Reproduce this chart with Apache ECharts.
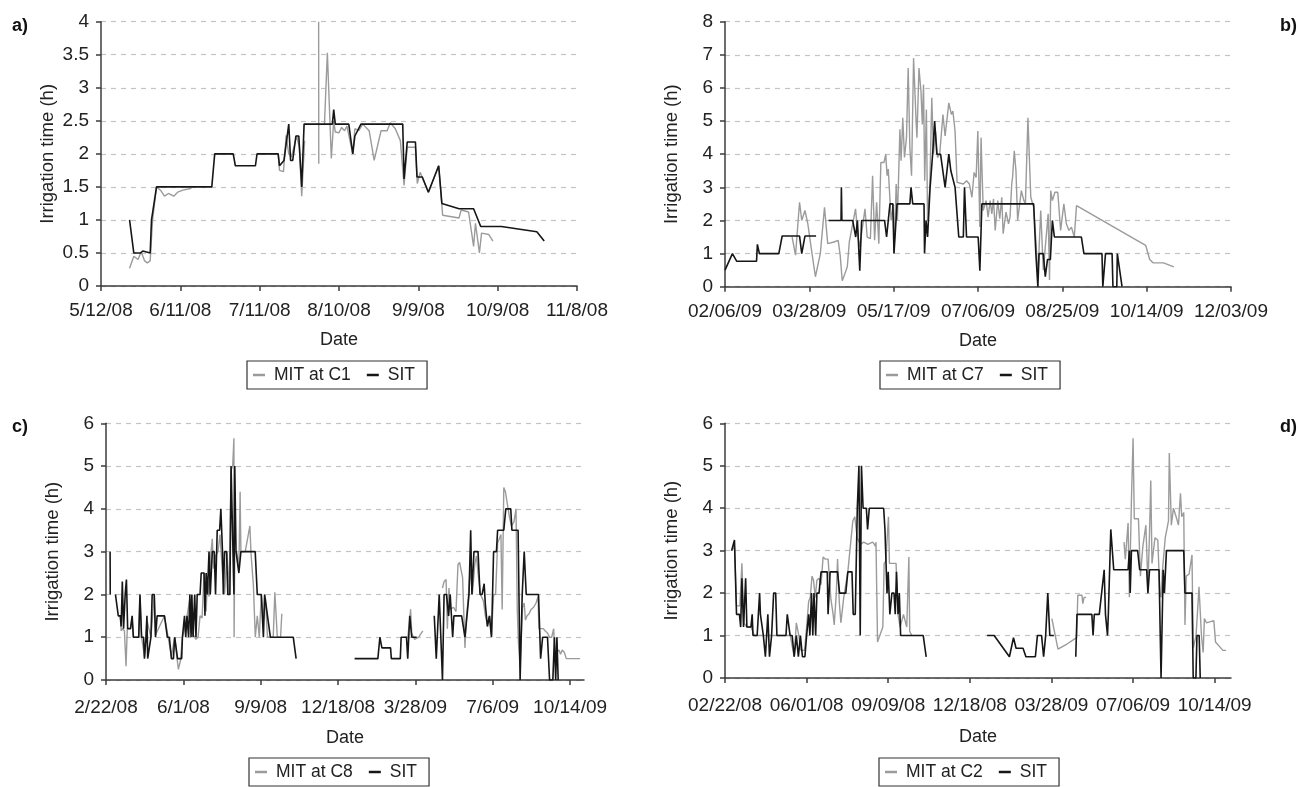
<!DOCTYPE html>
<html><head><meta charset="utf-8">
<script src="https://cdn.jsdelivr.net/npm/echarts@6/dist/echarts.min.js"></script>
<style>html,body{margin:0;padding:0;background:#fff}#c{width:1299px;height:787px}</style>
</head><body><div id="c"></div>
<script>
// x values are days after each panel's first axis date; null = gap in line
const aTicks = ['5/12/08','6/11/08','7/11/08','8/10/08','9/9/08','10/9/08','11/8/08'];
const bTicks = ['02/06/09','03/28/09','05/17/09','07/06/09','08/25/09','10/14/09','12/03/09'];
const cTicks = ['2/22/08','6/1/08','9/9/08','12/18/08','3/28/09','7/6/09','10/14/09'];
const dTicks = ['02/22/08','06/01/08','09/09/08','12/18/08','03/28/09','07/06/09','10/14/09'];

const aSIT = [[10.8,1.0],[12.4,0.5],[15,0.5],[15.8,0.53],[16.5,0.5],[18.6,0.5],[19.1,1.0],[21,1.5],[41.9,1.5],[43,2.0],[50,2.0],[50.8,1.82],[58.4,1.82],[59,2.0],[67,2.0],[67.5,1.82],[69.2,1.9],[71,2.45],[71.7,1.9],[72.5,1.9],[73.7,2.27],[74.8,2.27],[75.9,1.5],[76.8,2.45],[87.5,2.45],[88,2.67],[88.6,2.45],[93.7,2.45],[95.2,2.0],[96,2.27],[98.3,2.45],[114.1,2.45],[114.6,1.62],[115.8,2.18],[118.9,2.18],[119.5,1.65],[121.5,1.65],[123.8,1.42],[127.7,1.82],[128.9,1.25],[135.4,1.17],[140.9,1.17],[143.6,0.9],[151.4,0.9],[164.8,0.82],[167.6,0.68]];
const aMIT = [[10.8,0.27],[12.4,0.45],[14,0.4],[15.2,0.52],[16.5,0.38],[17.5,0.35],[18.6,0.38],[19.5,1.0],[21,1.5],[22.5,1.45],[24,1.36],[25.5,1.4],[27.5,1.36],[29,1.42],[31,1.45],[34.2,1.48],null,[43,2.0],[50,2.0],null,[59,2.0],[67,2.0],[67.5,1.75],[69,1.73],[70,2.28],[71,2.0],[72,1.95],[74,2.27],[75,2.1],[75.9,1.36],[77,2.2],null,[82.3,4.0],[82.35,1.85],null,[84.5,2.45],[85.6,3.53],[87.1,1.93],[88,2.5],[88.6,2.33],[90,2.32],[91,2.4],[92.1,2.35],[93,2.42],[95.2,2.0],[96,2.38],[97.5,2.35],[99,2.45],[101.4,2.35],[103.3,1.9],[105.9,2.35],[108.2,2.35],[109.4,2.47],[111.3,2.38],[113.2,2.2],[114.6,1.52],[115.8,2.1],[118.9,2.1],[119.6,1.55],[120.7,1.72],[122.2,1.57],[123.8,1.42],[127.7,1.82],[129.2,1.07],[135.4,1.03],[136.2,1.15],[139,1.12],[140.9,0.6],[141.6,0.95],[143.1,0.5],[143.9,0.8],[146.6,0.78],[148.2,0.68]];

const bSIT = [[0,0.5],[4.4,1.0],[6.9,0.77],[18.7,0.77],[19.2,1.28],[20.4,1.0],[31.9,1.0],[33.9,1.53],[44.2,1.53],[45.5,1.0],[47.4,1.53],[54,1.53],null,[61.4,2.0],[68.8,2.0],[69,3.0],[69.3,2.0],[75.7,2.0],[77.5,1.5],[78.5,2.0],[79.9,0.48],[81,2.0],[94.6,2.0],[95.8,1.5],[97.8,2.5],[99.5,2.5],[100.2,1.0],[102,2.5],[109.6,2.5],[110.3,3.0],[111.3,2.5],[118,2.5],[118.3,1.0],[119.2,2.0],[120.1,1.5],[121.6,3.0],[123.1,4.0],[124.3,5.0],[125.6,4.0],[127.8,4.0],[130.5,3.0],[132.7,4.0],[133.9,3.5],[135,3.5],[136.4,3.0],[137.2,3.0],[138.6,1.5],[141.3,1.5],[142,3.0],[143.2,1.5],[150.1,1.5],[151.1,0.48],[152.3,2.5],[183,2.5],[184.3,1.0],[185.5,0],[186.2,1.0],[188.7,1.0],[189.9,0.3],[191.2,0.82],[192.9,0.82],[194.1,2.0],[195.3,1.5],[211.3,1.5],[212.8,1.0],[223.5,1.0],[224,0],[225.1,0],[225.6,1.0],[229.5,1.0],[230,0],[232.3,0],[232.6,1.0],[233.2,1.0],[235.4,0]];
const bMIT = [[39.8,1.5],[41.8,0.95],[44.2,2.55],[45.5,2.0],[47.4,2.3],[49.1,1.9],[51.6,1.0],[53.6,0.3],[54.5,0.27],[56.5,1.0],[59,2.4],[60.9,1.3],[64.6,1.35],[67.1,1.4],[68.3,0.95],[69.5,0.18],[70.8,0.35],[72.5,0.6],[73.7,1.35],[75.7,1.9],[77.4,2.35],[78.9,1.5],[79.9,1.2],[83,2.35],[84.3,1.5],[86.2,1.45],[87.5,3.35],[88.7,1.4],[89.9,2.55],[91.2,1.3],[92.4,3.75],[94.3,3.75],[95.3,4.0],[96.1,3.35],[96.8,3.55],[98.5,2.0],[99.8,2.5],[100.2,1.0],[101.5,3.1],[102.2,2.0],[103.7,4.75],[104.4,3.8],[105.4,5.1],[106.4,3.9],[107.6,4.5],[108.6,6.6],[109.6,4.2],[110.6,3.35],[111.8,6.9],[113.3,5.0],[113.8,4.5],[115,6.6],[116.2,5.9],[117,4.9],[117.7,6.1],[118.4,3.2],[119.4,5.35],[120.1,2.0],[121.4,3.0],[122.6,5.7],[123.6,4.0],[124.8,4.7],[126,3.9],[127.3,4.0],[129.2,5.2],[130.5,4.55],[132.7,5.55],[134.2,5.2],[135.1,5.3],[136.4,4.7],[137.6,3.15],[141.3,3.1],[143.2,3.2],[144.9,3.1],[146.4,2.7],[147.7,3.45],[148.9,3.3],[149.9,4.7],[151.1,1.8],[151.8,4.5],[153.1,2.3],[154.8,2.6],[156,2.1],[157.2,2.6],[158.2,2.2],[159.2,2.65],[160.2,1.7],[161.7,2.6],[162.9,2.05],[164.1,2.7],[164.9,1.6],[166.6,2.25],[168.1,1.9],[169,2.1],[170,3.1],[170.5,3.3],[171.5,4.1],[172.5,3.5],[173.5,2.0],[175.7,2.9],[177.2,2.6],[178.1,2.5],[179.6,5.1],[181.3,2.7],[183,2.4],[184.3,1.4],[185.5,0.3],[187.2,2.3],[188.7,0.5],[191.6,2.2],[192.4,0.2],[193.1,2.9],[194.1,2.6],[195.6,2.85],[197.3,2.85],[199,1.7],[200.9,2.5],[202.4,1.9],[203.9,1.7],[205.4,1.8],[207.1,1.5],[208.4,2.45],[249.4,1.25],[251.8,0.82],[253.8,0.72],[260,0.72],[266.1,0.6]];

const cSIT = [[5.3,3.0],[5.5,2.0],null,[12.2,2.0],[15.9,1.5],[18.5,1.5],[19.6,1.25],[21.1,2.3],[22.7,1.2],[24.8,2.0],[26.4,2.35],[28,1.2],[31.7,1.2],[33.8,1.5],[35.4,1.0],[42.3,1.0],[43.9,2.0],[46,1.0],[48.6,1.0],[49.7,0.5],[51.8,1.0],[52.9,1.5],[53.9,0.5],[58.1,1.0],[59.7,2.0],[62.4,2.0],[64,1.0],[66.1,1.5],[75.6,1.5],[79.3,1.0],[81.9,1.0],[84.6,0.5],[87.2,0.5],[88.8,1.0],[90.9,1.0],[92.5,0.5],[97.8,0.5],[98.8,1.0],[101.5,1.5],[103.1,1.0],[104.7,1.5],[106.8,1.0],[108.4,2.0],[110,1.0],[111,2.0],[112.6,1.0],[114.7,2.0],[116.3,1.0],[117.9,2.0],[121.6,2.0],[123.1,2.5],[126.8,2.5],[127.9,1.5],[129.5,2.5],[131.1,2.0],[133.2,3.0],[134.8,2.0],[137.4,3.0],[140,3.0],[141.6,2.0],[143.8,3.5],[146.9,3.5],[148.5,4.0],[150.6,3.0],[151.7,2.0],[153.3,3.0],[155.9,3.0],[157.5,2.0],[160.2,2.0],[161.7,5.0],[163.8,5.0],[165.4,2.0],[166.5,5.0],[168.1,3.0],[170.2,3.0],[171.8,2.5],[174.4,3.0],[192.9,3.0],[195.6,2.0],[200.8,2.0],[203.5,1.0],[205.1,2.0],[207.2,2.0],[208.8,1.5],[210.4,1.5],[212.5,1.0],[232.6,1.0],[242.1,1.0],[245.8,0.5],null,[321.4,0.5],[351.5,0.5],[354.1,1.0],[356.7,0.75],[362.1,0.75],[367.9,0.75],[368.9,0.5],[380.5,0.5],[381.6,1.0],[388.5,1.0],[390.1,0.5],[392.7,1.5],[395.3,1.0],[401.7,1.0],null,[424.4,1.5],[427,0.5],[430.8,2.0],[435,0],[437.1,2.0],[440.3,2.0],[442.9,1.5],[445,2.0],[446.6,1.5],[448.2,1.0],[449.8,1.5],[459.8,1.5],[464.1,1.0],[466.7,1.5],[469.3,2.0],[471.5,3.5],[473.1,2.0],[475.7,3.0],[481,3.0],[483.6,2.0],[486.3,2.0],[488.9,2.25],[490.5,1.75],[493.1,1.25],[495.7,1.5],[498.4,1.0],[501.1,3.0],[504.8,3.0],[506.3,3.5],[514.3,3.5],[516.9,4.0],[523.3,4.0],[524.8,3.5],[532.8,3.5],[535.4,0],[538.1,2.0],[540.7,3.0],[543.3,2.0],[559.2,2.0],[561.9,0.5],[564.5,1.0],[570.8,1.0],[573.5,0],[577.7,0],[579.8,1.0],[581.4,0],[583,1.0],[584.6,0]];
const cMIT = [[18.5,1.5],[19.6,1.15],[21.1,1.2],[23.8,1.15],[25.9,0.32],[27.5,1.2],[31.7,1.2],[33.8,1.45],[35.4,1.0],[42.3,1.0],[43.9,1.95],[46,1.0],[49.7,0.55],[52.9,1.4],[58.1,1.0],[62.4,2.0],[64,1.05],[75.6,1.5],[84.6,0.55],[88.8,1.0],[91.9,0.5],[93.6,0.25],[96.2,0.45],[98.8,1.0],[103.1,1.3],[108.4,1.9],[111,1.1],[114.7,1.0],[116.3,0.95],[119,1.0],[121.6,1.5],[124.2,1.45],[126.8,2.5],[129.5,1.6],[131.1,2.4],[133.2,1.95],[135.3,2.9],[137.4,3.3],[139,2.6],[141.6,2.9],[144.8,3.0],[147.4,3.4],[150.6,2.5],[153.3,2.0],[156.4,3.0],[159.1,2.0],[161.7,4.9],[163.8,5.0],[165.4,5.65],[165.6,1.0],[166.5,3.0],[169.1,3.0],[171.8,2.6],[173.4,4.4],[174.4,3.0],[180,3.0],[186,3.6],[187.5,2.95],[190.6,2.2],[193,1.0],[195.6,1.5],[198.2,1.0],[200.8,2.0],[203.5,1.4],[206.1,1.9],[208.8,1.0],[212.5,1.0],[216.2,1.0],[218.3,2.05],[220.4,2.05],[221.5,1.0],[225.7,1.0],[227.3,1.55],null,[386,1.0],[390.1,1.0],[392.7,1.4],[393.8,1.65],[395.3,1.1],[397.4,1.0],[399,0.95],[404.3,1.0],[409.6,1.15],null,[435,2.15],[437.1,2.3],[439.7,2.35],[441.3,1.2],[443.4,2.15],[445,1.65],[449.3,1.7],[452.5,1.6],[455.1,2.7],[457.2,2.75],[458.8,2.6],[461,2.4],[462.5,1.6],[464.1,0.75],[465.7,1.4],[468.3,1.9],[470.9,2.6],[473.6,2.0],[476.8,2.7],[479,2.9],[481,2.5],[484.2,2.0],[487.9,1.85],[490.5,1.5],[493.1,1.3],[496.2,1.5],[498.4,1.05],[501.1,2.0],[503.7,2.0],[506.3,3.2],[510.6,3.4],[512.2,1.65],[514.3,4.5],[516.4,4.4],[519,4.1],[521.7,3.8],[524.3,3.6],[527.5,3.7],[530.1,4.0],[531.7,1.65],[533.3,0.85],[535.4,0.3],[537.5,0.3],[538.6,1.7],[540.7,1.8],[542.3,1.4],[544.4,1.5],[547,1.55],[549.6,1.65],[552.8,1.7],[556,1.8],[558.6,1.95],[559.7,1.2],[562.4,1.2],[565.5,1.2],[567.6,1.15],[570.8,1.1],[573.5,1.0],[576.2,1.0],[578.8,1.2],[580.4,0.5],[583,0.65],[585.6,0.7],[587.7,0.6],[589.8,0.7],[592.5,0.65],[595.1,0.5],[602.5,0.5],[613,0.5]];

const dSIT = [[8.1,3.0],[11.6,3.25],[14.1,1.5],[17.7,1.5],[19.2,1.2],[20.7,2.35],[22.7,1.2],[25.3,2.35],[26.8,1.2],[31.8,1.2],[33.3,1.5],[34.3,1.0],[39.4,1.0],[40.9,1.5],[42.4,2.0],[43.4,1.5],[47,1.0],[49.5,0.5],[52.5,1.5],[54.5,0.5],[57.1,1.0],[59.6,2.0],[62.1,2.0],[63.6,1.0],[74.7,1.0],[76.3,1.5],[79.8,1.0],[82.3,1.0],[84.8,0.5],[87.4,1.0],[89.9,0.5],[92.4,1.0],[94.9,0.5],[97.9,0.5],[100,1.0],[102.5,1.5],[104,1.0],[106,2.0],[107.6,1.0],[109,2.0],[111.1,1.0],[112.6,2.0],[115.2,2.0],[117.7,2.5],[125.3,2.5],[126.3,1.5],[128.8,2.5],[137.9,2.5],[140.4,2.0],[148,2.0],[150.5,2.5],[155.6,2.5],[157.1,1.5],[159.6,1.5],[162.1,4.0],[164.1,5.0],[165.7,1.0],[167.2,5.0],[169.2,4.0],[173.2,4.0],[174.7,3.5],[176.8,4.0],[190.9,4.0],[194.4,4.0],[196,3.5],[198.5,2.0],[200,2.5],[202,1.5],[204.5,2.0],[207.1,2.0],[208.6,1.5],[210.1,2.5],[212.1,1.5],[213.6,2.0],[215.2,1.0],[231.3,1.0],[242.9,1.0],[246.5,0.5],null,[321.2,1.0],[329.8,1.0],[348.5,0.5],[353.5,0.95],[356.6,0.7],[365.2,0.7],[368.7,0.5],[380.3,0.5],[382.8,1.0],[387.9,1.0],[390.4,0.5],[392.9,1.0],[394.4,1.0],[395.5,2.0],[398,1.0],[403,1.0],null,[429.8,0.5],[431.3,1.5],[443.4,1.5],[449.5,1.5],[451,1.0],[452.5,1.5],[458.6,1.5],[464.6,2.55],[466.2,1.5],[468.7,1.0],[469.7,1.5],[472.7,3.5],[476.3,2.55],[493.9,2.55],[495.5,3.0],[496.5,2.0],[498,3.0],[505.6,3.0],[508.1,2.55],[516.7,2.55],[518.2,2.0],[520.2,2.55],[531.8,2.55],[534.3,0],[536.9,2.55],[538.4,2.0],[540.9,3.0],[562.1,3.0],[563.6,2.0],[572.2,2.0],[573.7,0],[577,0],[578.3,1.0],[581,1.0],[582.3,0]];
const dMIT = [[8.1,3.0],[11.6,3.1],[14.1,1.7],[18.2,1.7],[20.7,2.7],[23.2,1.3],[26.8,1.2],[31.8,1.2],[36,1.0],[44,1.0],[52,1.0],[60,1.0],[70,1.0],[75,1.0],[80,1.0],[84.8,0.5],[87.4,1.3],[90.5,1.0],[93,0.65],[95,0.65],[97.5,0.65],[100,1.2],[102.5,1.8],[104.5,1.9],[106.6,2.4],[108.5,2.3],[110.6,1.9],[112.6,2.3],[115.2,2.35],[117.7,2.2],[120.2,2.85],[123,2.8],[126.3,2.8],[129.8,1.85],[132.5,1.5],[133.8,1.25],[136.4,2.0],[137.9,2.8],[140,1.8],[142,1.3],[145.5,1.9],[150.5,2.5],[156.6,3.7],[159,3.8],[162,3.3],[165.7,3.15],[170,3.2],[175,3.15],[180.8,3.2],[183,3.15],[184.3,3.1],[185,3.2],[186.9,0.85],[193.4,1.2],[195,2.7],[197,2.75],[200.3,3.8],[201.5,2.7],[205,2.7],[209.6,2.7],[212,1.5],[214.6,1.2],[218.7,1.5],[222.7,1.2],[225.3,2.85],[226.3,1.1],[228.8,1.0],null,[400.5,1.4],[408,0.68],[419,0.8],[430.8,0.95],[432.3,1.95],[437.4,1.95],[438.4,1.75],[440,1.9],[442.4,1.9],null,[488.9,3.2],[490.5,2.8],[493.9,3.65],[495.5,1.9],[498,4.2],[500,5.65],[501.5,3.75],[506.6,3.75],[509,2.4],[512,3.1],[515.7,3.6],[518.2,2.2],[520,3.3],[521.7,4.65],[523.2,2.7],[526.8,3.3],[530.3,3.25],[532.8,2.0],[534.3,1.9],[535.9,2.5],[539.4,3.3],[543.4,3.7],[544.4,5.3],[546.9,3.6],[549.5,4.0],[553.5,3.75],[555.6,3.6],[558.1,4.35],[559.6,3.8],[562.1,3.9],[563.6,1.25],[565.2,2.4],[568.7,2.45],[572.2,2.9],[573.7,0.7],[577.2,1.0],[580.8,2.15],[583.8,1.0],[585.9,0.6],[587.4,1.4],[589.9,1.3],[599,1.35],[601,0.85],[610.1,0.65],[614,0.65]];

const FONT = "'Liberation Sans',Arial,sans-serif";
const GRAY = '#9b9b9b', BLACK = '#161616', AXC = '#3c3c3c';

const panels = [
  {grid:{left:101,top:21.7,width:476,height:264.3}, xMax:180, xInt:30, ticks:aTicks, yMax:4, yInt:0.5, mit:aMIT, sit:aSIT, mitName:'MIT at C1', legend:{left:247,top:361}, lm:15, ng:45},
  {grid:{left:725,top:21.7,width:506,height:265}, xMax:300, xInt:50, ticks:bTicks, yMax:8, yInt:1, mit:bMIT, sit:bSIT, mitName:'MIT at C7', legend:{left:880,top:361}, lm:16, ng:45},
  {grid:{left:106,top:423.3,width:478,height:256.7}, xMax:618, xInt:100, ticks:cTicks, yMax:6, yInt:1, mit:cMIT, sit:cSIT, mitName:'MIT at C8', legend:{left:249,top:758}, lm:18, ng:49},
  {grid:{left:725,top:423.3,width:506,height:254.7}, xMax:620, xInt:100, ticks:dTicks, yMax:6, yInt:1, mit:dMIT, sit:dSIT, mitName:'MIT at C2', legend:{left:879,top:758}, lm:18, ng:50}
];

const toData = arr => arr.map(p => p === null ? [NaN, NaN] : p);

const option = {
  animation:false,
  textStyle:{fontFamily:FONT},
  grid:[], xAxis:[], yAxis:[], series:[], legend:[],
  graphic:[
    {type:'text',left:12,top:17,style:{text:'a)',font:"bold 18px "+FONT,fill:'#111'}},
    {type:'text',left:1280,top:17,style:{text:'b)',font:"bold 18px "+FONT,fill:'#111'}},
    {type:'text',left:12,top:418,style:{text:'c)',font:"bold 18px "+FONT,fill:'#111'}},
    {type:'text',left:1280,top:418,style:{text:'d)',font:"bold 18px "+FONT,fill:'#111'}}
  ]
};

panels.forEach((p,i)=>{
  option.grid.push(Object.assign({containLabel:false, outerBoundsMode:'none'}, p.grid));
  const custom = p.ticks.map((t,k)=>k*p.xInt);
  option.xAxis.push({
    type:'value', gridIndex:i, min:0, max:p.xMax, interval:p.xInt,
    name:'Date', nameLocation:'middle', nameGap:p.ng,
    nameTextStyle:{fontSize:18,color:'#222',fontFamily:FONT},
    axisLine:{show:true,lineStyle:{color:AXC,width:1.5}},
    axisTick:{show:true,length:5,lineStyle:{color:AXC,width:1.5},customValues:custom},
    axisLabel:{fontSize:19,color:'#222',margin:p.lm,fontFamily:FONT,customValues:custom,
      hideOverlap:false,showMinLabel:true,showMaxLabel:true,
      formatter:v=>{const k=Math.round(v/p.xInt);return p.ticks[k]||'';}},
    splitLine:{show:false}
  });
  option.yAxis.push({
    type:'value', gridIndex:i, min:0, max:p.yMax, interval:p.yInt,
    name:'Irrigation time (h)', nameLocation:'middle', nameRotate:90, nameGap:44,
    nameTextStyle:{fontSize:18.5,color:'#222',fontFamily:FONT},
    axisLine:{show:true,lineStyle:{color:AXC,width:1.5}},
    axisTick:{show:true,length:5,lineStyle:{color:AXC,width:1.5}},
    axisLabel:{fontSize:19,color:'#222',margin:12,fontFamily:FONT,hideOverlap:false},
    splitLine:{show:true,lineStyle:{color:'#c4c4c4',width:1.2,type:[5,5]}}
  });
  option.series.push({
    type:'line', name:p.mitName, xAxisIndex:i, yAxisIndex:i, data:toData(p.mit),
    showSymbol:false, symbol:'none', color:GRAY, lineStyle:{color:GRAY,width:1.4}, connectNulls:false, z:2
  });
  option.series.push({
    type:'line', name:'SIT', xAxisIndex:i, yAxisIndex:i, data:toData(p.sit),
    showSymbol:false, symbol:'none', color:BLACK, lineStyle:{color:BLACK,width:1.6}, connectNulls:false, z:3
  });
  option.legend.push({
    left:p.legend.left, top:p.legend.top, orient:'horizontal',
    data:[{name:p.mitName,itemStyle:{color:GRAY}},{name:'SIT',itemStyle:{color:BLACK}}],
    icon:'rect', itemWidth:12, itemHeight:2.5, itemGap:16,
    borderColor:'#333', borderWidth:1.2, borderRadius:0, padding:[5,12,5,6],
    textStyle:{fontSize:17.5,color:'#222',fontFamily:FONT,padding:[0,0,0,4]},
    selectedMode:false
  });
});

const chart = echarts.init(document.getElementById('c'), null, {renderer:'canvas'});
chart.setOption(option);
</script>
</body></html>
